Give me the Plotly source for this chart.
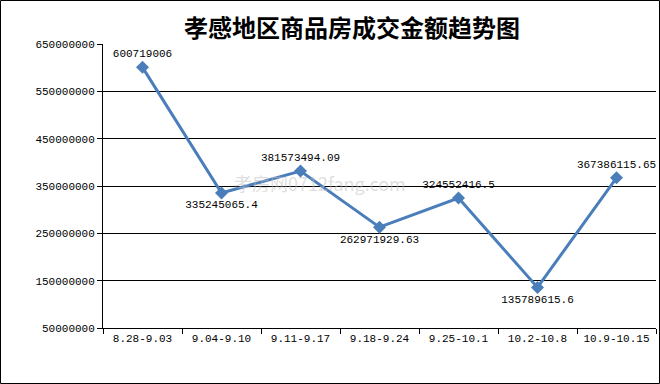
import plotly.graph_objects as go

categories = ["8.28-9.03", "9.04-9.10", "9.11-9.17", "9.18-9.24", "9.25-10.1", "10.2-10.8", "10.9-10.15"]
values = [600719006, 335245065.4, 381573494.09, 262971929.63, 324552416.5, 135789615.6, 367386115.65]
labels = ["600719006", "335245065.4", "381573494.09", "262971929.63", "324552416.5", "135789615.6", "367386115.65"]
label_pos = ["top center", "bottom center", "top center", "bottom center", "top center", "bottom center", "top center"]
tick_vals = [50000000, 150000000, 250000000, 350000000, 450000000, 550000000, 650000000]

W, H = 660, 384
L, R, T, B = 103, 4, 44, 56
pw, ph = W - L - R, H - T - B

mono = "Liberation Mono, DejaVu Sans Mono, monospace"

fig = go.Figure()
fig.add_trace(go.Scatter(
    x=categories, y=values, mode="lines+markers+text",
    line=dict(color="#4A7EBB", width=3),
    marker=dict(symbol="diamond", size=10, color="#4A7EBB"),
    text=labels, textposition=label_pos,
    textfont=dict(family=mono, size=11, color="#000000"),
    cliponaxis=False, showlegend=False,
))

fig.update_layout(
    width=W, height=H,
    margin=dict(l=L, r=R, t=T, b=B),
    paper_bgcolor="white", plot_bgcolor="white",
    title=dict(text="<b>孝感地区商品房成交金额趋势图</b>", x=(352 - L) / pw, xref="paper", xanchor="center",
               y=1 - 29 / H, yanchor="middle",
               font=dict(family="Noto Sans CJK SC", size=24, color="#000000")),
    xaxis=dict(type="category", showline=True, linecolor="black", linewidth=1,
               ticks="outside", ticklen=5, tickcolor="black", tickson="boundaries",
               showgrid=False, tickfont=dict(family=mono, size=11, color="black"),
               range=[-0.5, 6.5]),
    yaxis=dict(range=[50000000, 650000000], tickvals=tick_vals,
               ticktext=[str(v) for v in tick_vals],
               showline=True, linecolor="black", linewidth=1,
               ticks="outside", ticklen=5, tickcolor="black",
               showgrid=True, gridcolor="black", gridwidth=1, zeroline=False,
               tickfont=dict(family=mono, size=11, color="black")),
    shapes=[dict(type="rect", xref="paper", yref="paper",
                 x0=(0.5 - L) / pw, x1=(W - 0.5 - L) / pw,
                 y0=-(B - 0.5) / ph, y1=1 + (T - 0.5) / ph,
                 line=dict(color="black", width=1), layer="above")],
    annotations=[dict(text="孝房网0712fang.com", xref="paper", yref="paper",
                      x=(232 - L) / pw, y=(H - B - 183) / ph, showarrow=False,
                      font=dict(family="Noto Sans CJK SC", size=18, color="rgba(190,190,190,0.5)"))],
)

fig.write_html("out.html")
